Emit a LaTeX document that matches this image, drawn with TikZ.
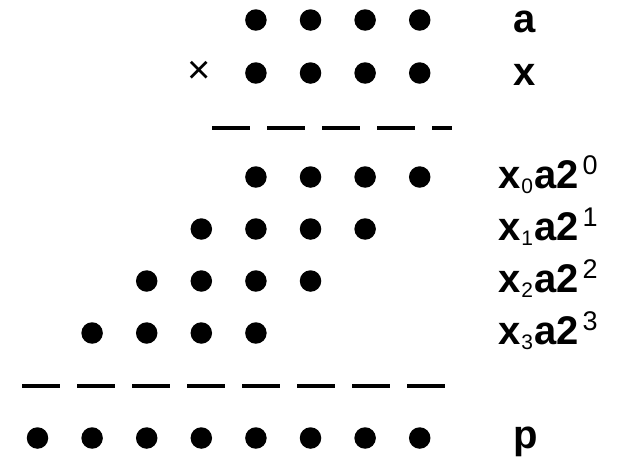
\documentclass[tikz,border=0pt]{standalone}
\usepackage{fontspec}
\setmainfont{Liberation Sans}
\newcommand{\subdigit}[1]{\kern1pt\raisebox{-5pt}{\fontsize{21}{21}\selectfont\mdseries #1}\kern1pt}
\newcommand{\supdigit}[1]{\kern4pt\raisebox{14pt}{\fontsize{27}{27}\selectfont\mdseries #1}}
\begin{document}
\begin{tikzpicture}[x=1pt,y=-1pt,
    dot/.style={circle,fill=black,inner sep=0pt,minimum size=21.5pt},
    lbl/.style={anchor=base west,inner sep=0pt,font=\fontsize{40}{42}\selectfont\bfseries},
    rule/.style={line width=3.5pt,dash pattern=on 38pt off 17pt}]
  \useasboundingbox (0,0) rectangle (617,461);
  % multiplicand and multiplier
  \foreach \i in {5,...,8} \node[dot] (a\i) at (\i*54.6-17.1, 20) {};
  \foreach \i in {5,...,8} \node[dot] (x\i) at (\i*54.6-17.1, 73) {};
  \node[inner sep=0pt,font=\fontsize{40}{42}\selectfont] (times) at (199.5, 72.5) {×};
  \node[lbl] (la) at (513, 32) {a};
  \node[lbl] (lx) at (513, 85) {x};
  \coordinate (top0) at (212, 128);
  \coordinate (top1) at (452, 128);
  \draw[rule] (top0) -- (top1);
  %
  % partial products:
  \foreach \i in {5,...,8} \node[dot] (r0\i) at (\i*54.6-17.1, 177) {};
  \foreach \i in {4,...,7} \node[dot] (r1\i) at (\i*54.6-17.1, 229) {};
  \foreach \i in {3,...,6} \node[dot] (r2\i) at (\i*54.6-17.1, 281) {};
  \foreach \i in {2,...,5} \node[dot] (r3\i) at (\i*54.6-17.1, 333) {};
  \node[lbl] (l0) at (498, 188) {x\subdigit{0}a2\supdigit{0}};
  \node[lbl] (l1) at (498, 240) {x\subdigit{1}a2\supdigit{1}};
  \node[lbl] (l2) at (498, 292) {x\subdigit{2}a2\supdigit{2}};
  \node[lbl] (l3) at (498, 344) {x\subdigit{3}a2\supdigit{3}};
  \coordinate (bot0) at (22, 386);
  \coordinate (bot1) at (446, 386);
  \draw[rule] (bot0) -- (bot1);
  %
  % product:
  \foreach \i in {1,...,8} \node[dot] (p\i) at (\i*54.6-17.1, 438) {};
  \node[lbl] (lp) at (513, 448) {p};
\end{tikzpicture}
\end{document}
